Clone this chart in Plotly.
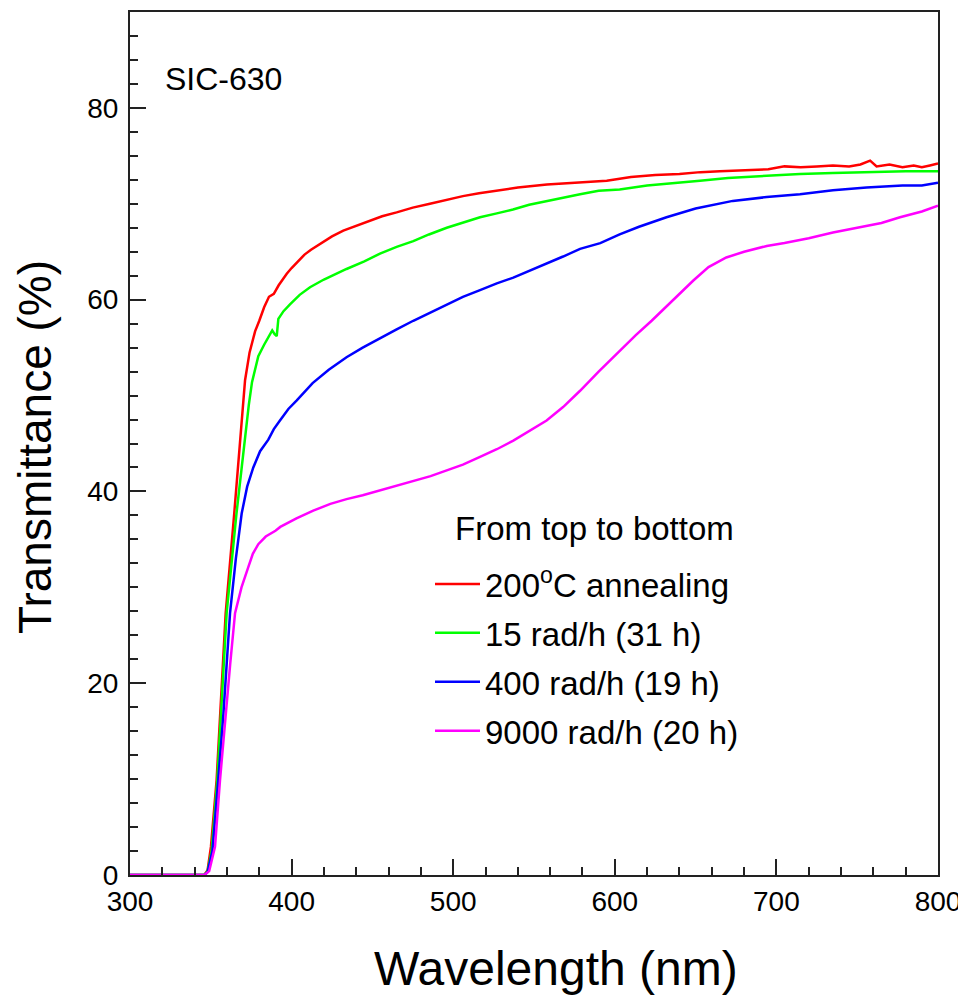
import plotly.graph_objects as go

# ---- data ----
wl_red = [300, 346, 348, 350.1, 353.6, 355.7, 359.2, 364.5, 368.1, 371.2, 374, 377.4, 380, 383, 386, 389, 392,
          395, 397, 400, 404, 408, 412, 417.6, 425, 432, 440, 448.5, 456, 465, 475, 485.6, 495, 506, 516,
          527, 540, 558, 575, 595, 610, 625, 640, 653, 665, 680, 695, 705, 715, 725, 735, 745, 752, 758,
          762, 770, 778, 785, 790, 795, 800]
t_red = [0, 0, 0.5, 2.95, 9.9, 16.8, 27.3, 37.7, 45.6, 51.6, 54.5, 56.7, 57.8, 59.2, 60.3, 60.6, 61.5,
         62.3, 62.7, 63.3, 64.0, 64.7, 65.2, 65.8, 66.6, 67.2, 67.7, 68.2, 68.7, 69.1, 69.6, 70.0, 70.4, 70.8, 71.1,
         71.4, 71.7, 72.0, 72.2, 72.4, 72.8, 73.0, 73.1, 73.3, 73.4, 73.5, 73.6, 73.9, 73.8, 73.9, 74.0, 73.9, 74.1, 74.5,
         73.9, 74.1, 73.8, 74.0, 73.8, 74.0, 74.2]

wl_green = [300, 346, 348, 350.5, 354, 356.2, 359.8, 365.9, 369, 371.5, 373.5, 375.5, 379.4, 383, 386, 388,
            389.5, 390.8, 391.8, 395, 399, 405, 411.4, 420, 434, 445, 454.7, 465, 475.3, 485, 496, 506, 516.6,
            527, 537, 547, 558, 568, 578.5, 590, 603, 620, 637, 652.7, 670, 690, 714.6, 735, 760, 780, 800]
t_green = [0, 0, 0.4, 2.5, 9.9, 16.8, 27.3, 37.7, 42.5, 46.0, 49.0, 51.4, 54.1, 55.3, 56.2, 56.8,
           56.4, 56.2, 58.0, 58.8, 59.5, 60.5, 61.3, 62.1, 63.2, 64.0, 64.8, 65.5, 66.1, 66.8, 67.5, 68.0, 68.6,
           69.0, 69.4, 69.9, 70.3, 70.6, 71.0, 71.35, 71.5, 71.9, 72.2, 72.4, 72.7, 72.9, 73.1, 73.2, 73.3, 73.4, 73.4]

wl_blue = [300, 346, 348, 351, 354.6, 357.8, 361.9, 365.5, 369.1, 372.5, 376.3, 380.5, 385.6, 389, 392.8,
           398, 403.2, 413, 423, 434, 444, 454.7, 465, 475.3, 486, 496, 506, 516.6, 527, 537.2, 547, 557.8,
           568, 578.5, 591, 603, 615, 632, 650, 673, 694, 714.6, 735, 755.8, 778, 790, 800]
t_blue = [0, 0, 0.3, 2.5, 9.9, 16.8, 27.3, 33.0, 37.7, 40.5, 42.5, 44.2, 45.4, 46.5, 47.4,
          48.6, 49.5, 51.3, 52.7, 54.0, 55.0, 56.0, 56.9, 57.8, 58.7, 59.5, 60.3, 61.0, 61.7, 62.3, 63.0, 63.7,
          64.5, 65.3, 65.9, 66.8, 67.6, 68.6, 69.5, 70.3, 70.7, 71.0, 71.4, 71.7, 71.9, 71.9, 72.2]

wl_mag = [300, 346, 349, 352.6, 355.7, 359.2, 362, 365, 369, 373.2, 376, 379.4, 384, 390, 393, 403, 413.4,
          424, 434, 444, 454.7, 465, 475.3, 486, 496, 506, 516.6, 527, 537.2, 547, 557.8, 568, 578.5, 590,
          603, 613, 622.8, 635, 648.6, 658, 669, 680, 694, 705, 720, 735, 750, 765, 776.5, 790, 800]
t_mag = [0, 0, 0.4, 2.95, 9.9, 16.8, 22.0, 27.3, 30.0, 32.1, 33.5, 34.5, 35.3, 35.9, 36.3, 37.2, 38.0,
         38.7, 39.2, 39.6, 40.1, 40.6, 41.1, 41.6, 42.2, 42.8, 43.6, 44.4, 45.3, 46.3, 47.4, 48.8, 50.5, 52.5,
         54.7, 56.3, 57.8, 59.8, 62.0, 63.4, 64.4, 65.0, 65.6, 65.9, 66.4, 67.0, 67.5, 68.0, 68.6, 69.2, 69.8]

names = ["200<sup>o</sup>C annealing", "15 rad/h (31 h)", "400 rad/h (19 h)", "9000 rad/h (20 h)"]
colors = ["#ff0000", "#00ff00", "#0000ff", "#ff00ff"]
series = [(wl_red, t_red), (wl_green, t_green), (wl_blue, t_blue), (wl_mag, t_mag)]
legend_title = "From top to bottom"

FONT = "Liberation Sans, Arial, Helvetica, sans-serif"

fig = go.Figure()
for i, ((x, y), n, c) in enumerate(zip(series, names, colors)):
    fig.add_trace(go.Scatter(x=x, y=y, mode="lines", name=n, legendgroup=f"g{i}",
                             line=dict(color=c, width=2.5)))

fig.update_layout(
    width=958, height=1000,
    margin=dict(l=130, r=20, t=12, b=125, autoexpand=False),
    paper_bgcolor="white", plot_bgcolor="white",
    font=dict(family=FONT, color="black", size=28),
    showlegend=True,
    legend=dict(
        x=(430 - 130) / 808, y=(875 - 556) / 863, xanchor="left", yanchor="top",
        bgcolor="rgba(0,0,0,0)", borderwidth=0,
        font=dict(family=FONT, size=33, color="black"),
        itemwidth=45,
        tracegroupgap=3,
    ),
    xaxis=dict(
        range=[300, 800], showgrid=False, zeroline=False, automargin=False,
        showline=True, linecolor="#222", linewidth=2, mirror=True,
        ticks="inside", ticklen=16, tickwidth=2, tickcolor="#222",
        tick0=300, dtick=100,
        minor=dict(ticks="inside", ticklen=8, tickwidth=1.5, tickcolor="#222", dtick=20, showgrid=False),
        tickfont=dict(size=28, family=FONT),
        ticklabeloverflow="allow",
    ),
    yaxis=dict(
        range=[0, 90], showgrid=False, zeroline=False, automargin=False,
        showline=True, linecolor="#222", linewidth=2, mirror=True,
        ticks="inside", ticklen=16, tickwidth=2, tickcolor="#222",
        tick0=0, dtick=20,
        minor=dict(ticks="inside", ticklen=8, tickwidth=1.5, tickcolor="#222", dtick=2.5, showgrid=False),
        tickfont=dict(size=28, family=FONT),
        ticklabelstandoff=4,
    ),
    annotations=[
        dict(text="Wavelength (nm)", xref="paper", yref="paper", x=(556 - 130) / 808, y=-(968 - 875) / 863,
             xanchor="center", yanchor="middle", showarrow=False, font=dict(size=48, family=FONT)),
        dict(text="Transmittance (%)", xref="paper", yref="paper", x=(35 - 130) / 808, y=(875 - 447) / 863,
             xanchor="center", yanchor="middle", textangle=-90, showarrow=False, font=dict(size=46, family=FONT)),
        dict(text="SIC-630", xref="paper", yref="paper", x=(163 - 130) / 808, y=(875 - 79) / 863,
             xanchor="left", yanchor="middle", showarrow=False, font=dict(size=32, family=FONT)),
        dict(text=legend_title, xref="paper", yref="paper", x=(594 - 130) / 808, y=(875 - 528) / 863,
             xanchor="center", yanchor="middle", showarrow=False, font=dict(size=33, family=FONT)),
    ],
)

fig.write_html("out.html")
